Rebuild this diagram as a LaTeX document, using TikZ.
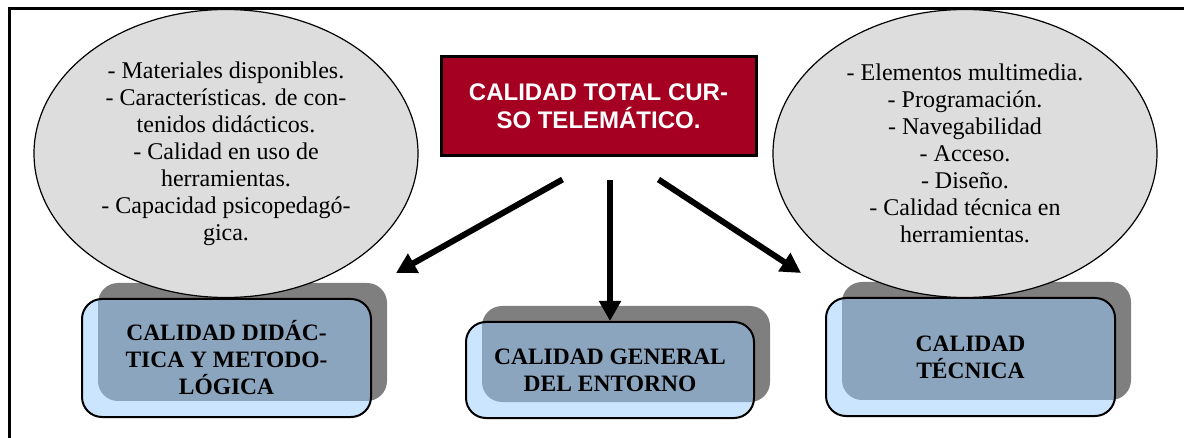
\documentclass[tikz,border=0pt]{standalone}
\usepackage{fontspec}
\setmainfont{Liberation Serif}
\newfontfamily\headfont{Liberation Sans}
\usetikzlibrary{shapes.geometric, arrows.meta, positioning, shadows}
\definecolor{headred}{RGB}{165,0,33}
\definecolor{boxblue}{RGB}{153,204,255}
\definecolor{ovalgray}{RGB}{221,221,221}

\begin{document}
\begin{tikzpicture}[x=1pt, y=-1pt,
  oval/.style={ellipse, draw, line width=1.2pt, fill=ovalgray,
    minimum width=384pt, minimum height=288pt, inner sep=0pt,
    align=center, font=\fontsize{24}{27}\selectfont},
  qbox/.style={rectangle, rounded corners=20pt, draw, line width=2pt,
    fill=boxblue, fill opacity=0.5, text opacity=1,
    minimum width=289pt, minimum height=118pt, align=center,
    font=\fontsize{23.5}{27}\selectfont\bfseries,
    drop shadow={shadow xshift=16pt, shadow yshift=16pt,
      fill=black, opacity=0.5}},
  head/.style={rectangle, draw, line width=3pt, fill=headred,
    text=white, minimum width=315pt, minimum height=99pt,
    align=center, font=\fontsize{24}{28}\selectfont\headfont\bfseries},
  arr/.style={line width=6pt, -{Triangle[length=20pt, width=21pt]}}]
  \useasboundingbox (0,0) rectangle (1184,438);
  \clip (0,0) rectangle (1184,438);
  % outer frame
  \draw[line width=3pt] (9,9) rectangle (1220,470);

  \node[qbox] (did) at (226.5,358) {CALIDAD DIDÁC-\\TICA Y METODO-\\LÓGICA};
  \node[qbox, minimum width=288pt, minimum height=96pt] (gen) at (610,370)
    {CALIDAD GENERAL\\DEL ENTORNO};
  \node[qbox] (tec) at (970.5,357) {CALIDAD\\TÉCNICA};

  \node[oval] (didlist) at (226,153.5) {- Materiales disponibles.\\
    - Características. de con-\\tenidos didácticos.\\
    - Calidad en uso de\\herramientas.\\
    - Capacidad psicopedagó-\\gica.};
  \node[oval] (teclist) at (965,153.5) {- Elementos multimedia.\\
    - Programación.\\- Navegabilidad\\- Acceso.\\- Diseño.\\
    - Calidad técnica en\\herramientas.};

  \node[head] (total) at (598.5,106.5) {CALIDAD TOTAL CUR-\\SO TELEMÁTICO.};

  \draw[arr] ([shift={(-36,22)}]total.south) -- ([shift={(24,-25)}]did.north east);
  \draw[arr] (total.south -| gen.north) ++(0,23) -- (gen.north);
  \draw[arr] ([shift={(60,22)}]total.south) -- ([shift={(-24,-24)}]tec.north west);
\end{tikzpicture}
\end{document}
